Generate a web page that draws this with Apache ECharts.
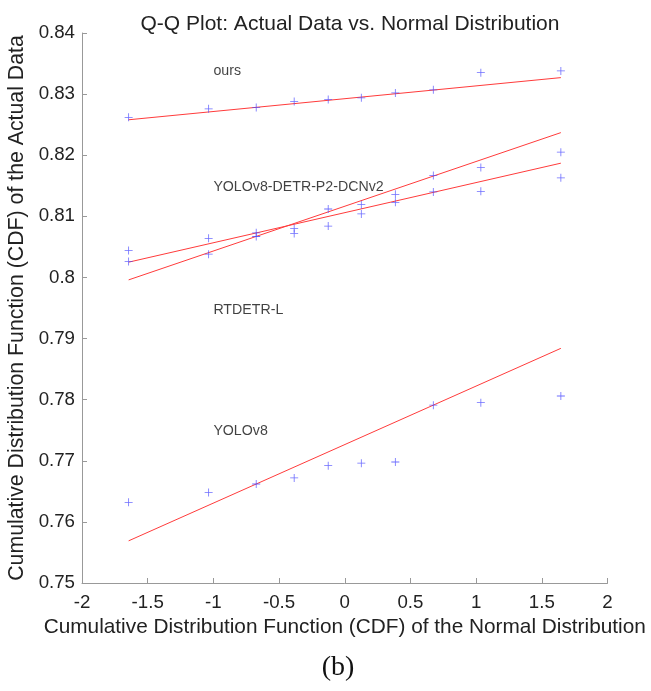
<!DOCTYPE html>
<html>
<head>
<meta charset="utf-8">
<script src="https://cdn.jsdelivr.net/npm/echarts@6/dist/echarts.min.js"></script>
<style>
html,body{margin:0;padding:0;background:#fff;}
#chart{width:651px;height:691px;}
</style>
</head>
<body>
<div id="chart"></div>
<script>
// Theoretical normal quantiles (x positions of the points)
const xQuantiles = [-1.645, -1.036, -0.674, -0.385, -0.126, 0.126, 0.385, 0.674, 1.036, 1.645];

// Sorted actual data (y values) per model
const oursValues     = [0.8262, 0.8276, 0.8278, 0.8288, 0.8291, 0.8294, 0.8302, 0.8307, 0.8335, 0.8338];
const yoloDetrValues = [0.8026, 0.8038, 0.8067, 0.8072, 0.8084, 0.8104, 0.8123, 0.8167, 0.8180, 0.8205];
const rtdetrValues   = [0.8044, 0.8064, 0.8073, 0.8080, 0.8112, 0.8119, 0.8136, 0.8140, 0.8141, 0.8163];
const yolov8Values   = [0.7632, 0.7648, 0.7662, 0.7672, 0.7692, 0.7696, 0.7698, 0.7791, 0.7795, 0.7806];

// Reference (fit) lines: [x0, y0, x1, y1]
const oursLine     = [-1.645, 0.8258, 1.645, 0.8327];
const yoloDetrLine = [-1.645, 0.7996, 1.645, 0.8237];
const rtdetrLine   = [-1.645, 0.8025, 1.645, 0.8187];
const yolov8Line   = [-1.645, 0.7569, 1.645, 0.7884];

// Text annotations: [x, y, text]
const annotations = [
  [-1.0, 0.8337, 'ours'],
  [-1.0, 0.8148, 'YOLOv8-DETR-P2-DCNv2'],
  [-1.0, 0.7946, 'RTDETR-L'],
  [-1.0, 0.7748, 'YOLOv8']
];

const xTicks = [-2, -1.5, -1, -0.5, 0, 0.5, 1, 1.5, 2];
const yTicks = [0.75, 0.76, 0.77, 0.78, 0.79, 0.8, 0.81, 0.82, 0.83, 0.84];

const FONT = 'Liberation Sans, Arial, sans-serif';
const plus = 'path://M4.5,0h1v4.5h4.5v1h-4.5v4.5h-1v-4.5h-4.5v-1h4.5z';

function pts(vals){ return xQuantiles.map((x,i)=>[x, vals[i]]); }
function seg(l){ return [[l[0], l[1]], [l[2], l[3]]]; }

const lineSeries = [oursLine, yoloDetrLine, rtdetrLine, yolov8Line].map(l => ({
  type: 'line', data: seg(l), symbol: 'none', silent: true, z: 2,
  lineStyle: {color: '#ff3b3b', width: 1}
}));
const scatterSeries = [oursValues, yoloDetrValues, rtdetrValues, yolov8Values].map(v => ({
  type: 'scatter', data: pts(v), symbol: plus, symbolSize: 8, z: 3,
  itemStyle: {color: '#4848ff'}
}));

const chart = echarts.init(document.getElementById('chart'), null, {renderer: 'canvas'});
chart.setOption({
  animation: false,
  backgroundColor: '#ffffff',
  title: {
    text: 'Q-Q Plot: Actual Data vs. Normal Distribution',
    left: 345, top: 9, textAlign: 'center',
    textStyle: {fontFamily: FONT, fontSize: 21, fontWeight: 'normal', color: '#222'}
  },
  grid: {left: 82, right: 43.5, top: 33, bottom: 108, outerBoundsMode: 'none'},
  xAxis: {
    type: 'value', min: xTicks[0], max: xTicks[xTicks.length-1], interval: 0.5,
    name: 'Cumulative Distribution Function (CDF) of the Normal Distribution',
    nameLocation: 'middle', nameGap: 34,
    nameTextStyle: {fontFamily: FONT, fontSize: 20.8, color: '#222'},
    axisLine: {onZero: false, lineStyle: {color: '#999', width: 1}},
    axisTick: {inside: true, length: 5, lineStyle: {color: '#999'}},
    axisLabel: {fontFamily: FONT, fontSize: 18.7, color: '#222', margin: 10},
    splitLine: {show: false}
  },
  yAxis: {
    type: 'value', min: yTicks[0], max: yTicks[yTicks.length-1], interval: 0.01,
    name: 'Cumulative Distribution Function (CDF) of the Actual Data',
    nameLocation: 'middle', nameGap: 47,
    nameTextStyle: {fontFamily: FONT, fontSize: 21.3, color: '#222'},
    axisLine: {onZero: false, lineStyle: {color: '#999', width: 1}},
    axisTick: {inside: true, length: 5, lineStyle: {color: '#999'}},
    axisLabel: {fontFamily: FONT, fontSize: 18.7, color: '#222', margin: 7,
      formatter: v => String(+v.toFixed(2))},
    splitLine: {show: false}
  },
  graphic: [{
    type: 'text', x: 338, y: 668,
    style: {text: '(b)', font: '28px "Liberation Serif", "Times New Roman", serif', fill: '#111',
      align: 'center', verticalAlign: 'middle'}
  }],
  series: lineSeries.concat(scatterSeries).concat([{
    type: 'scatter', symbolSize: 0, silent: true, z: 4,
    data: annotations.map(a => ({value: [a[0], a[1]], name: a[2]})),
    label: {show: true, position: [0, 0], align: 'left', verticalAlign: 'middle',
      formatter: p => p.name, fontFamily: FONT, fontSize: 14.2, color: '#111'}
  }])
});
</script>
</body>
</html>
